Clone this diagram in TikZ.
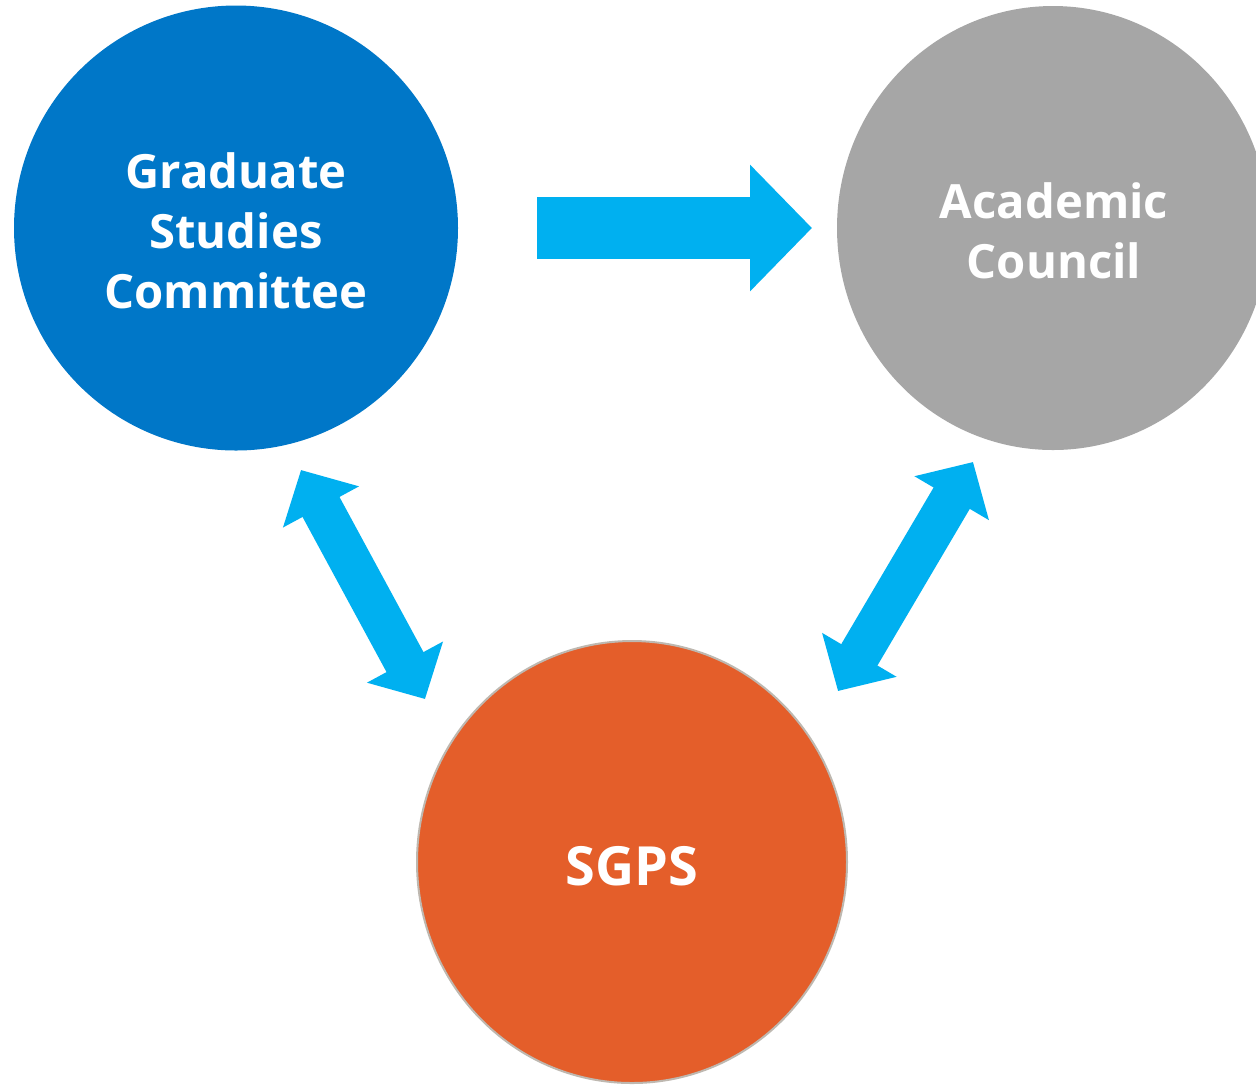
\documentclass[tikz,border=0pt]{standalone}
\usepackage{fontspec}
\setmainfont{Open Sans}
\usetikzlibrary{shapes.geometric,arrows.meta}
\definecolor{cblue}{RGB}{0,119,200}
\definecolor{cgray}{RGB}{166,166,166}
\definecolor{corange}{RGB}{228,94,42}
\definecolor{cborder}{RGB}{190,184,176}
\definecolor{carrow}{RGB}{0,176,240}
\tikzset{
  bubble/.style={ellipse, inner sep=0pt, text=white, align=center,
    font=\fontsize{23.6pt}{30pt}\selectfont\bfseries},
  bigarrow/.style={draw=carrow, line width=31pt,
    -{Triangle[length=31pt,width=61.5pt]}},
  dblarrow/.style={draw=carrow, line width=21pt,
    {Triangle[length=21pt,width=42pt]}-{Triangle[length=21pt,width=42pt]}}
}
\begin{document}
\begin{tikzpicture}[x=0.5pt,y=-0.5pt]
\clip (0,0) rectangle (1256,1084);
\fill[white] (0,0) rectangle (1256,1084);
\node[bubble, fill=cblue, minimum width=222pt, minimum height=222.5pt] (gsc) at (236,228) {};
\node[bubble, fill=cgray, minimum width=216pt, minimum height=222pt] (ac) at (1053,228) {};
\node[bubble, fill=corange, draw=cborder, line width=1pt, minimum width=215pt, minimum height=221pt] (sgps) at (632,862) {};
\node[bubble] (gsct) at (236,231) {Graduate\\Studies\\Committee};
\node[bubble] (act) at (1054,231) {Academic\\Council};
\node[bubble, font=\fontsize{27pt}{30pt}\selectfont\bfseries] (sgpst) at (632,866) {SGPS};
\coordinate (h1) at (537,228);
\coordinate (h2) at (812,228);
\coordinate (l1) at (301,470);
\coordinate (l2) at (425,699);
\coordinate (r1) at (973,462);
\coordinate (r2) at (838,691);
\draw[bigarrow] (h1) -- (h2);
\draw[dblarrow] (l1) -- (l2);
\draw[dblarrow] (r1) -- (r2);
\end{tikzpicture}
\end{document}
